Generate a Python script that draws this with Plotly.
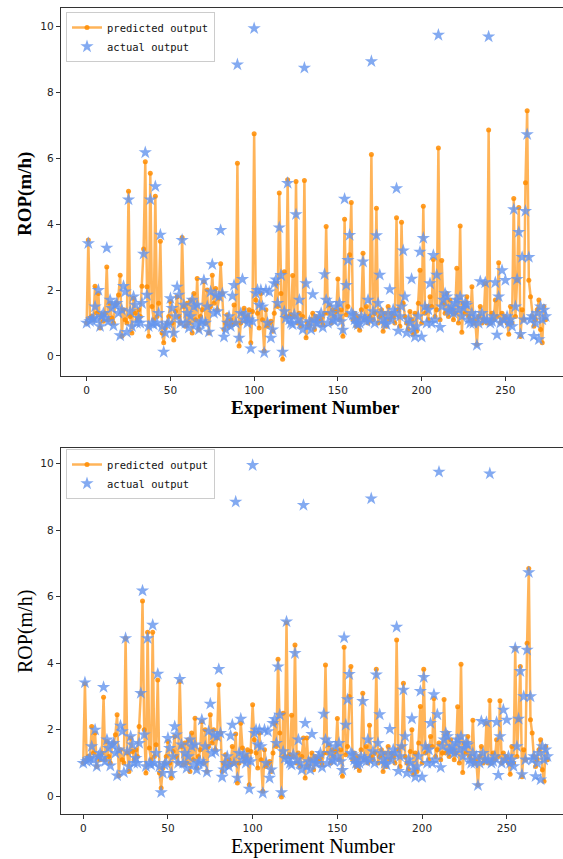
import plotly.graph_objects as go

W, H = 563, 859

actual = [
    1.0, 3.42, 1.05, 1.1, 1.15, 1.5, 1.1, 2.0, 0.9, 1.2,
    1.3, 1.15, 3.28, 1.05, 1.7, 1.45, 0.92, 1.55, 1.6, 1.3,
    0.62, 1.4, 2.12, 1.95, 0.72, 4.75, 1.35, 0.9, 1.8, 1.55,
    1.0, 1.15, 1.0, 1.6, 3.1, 6.18, 1.85, 0.9, 4.75, 1.0,
    0.95, 5.15, 1.0, 1.3, 3.68, 0.9, 0.12, 0.7, 0.95, 1.0,
    1.75, 1.45, 0.7, 1.2, 2.1, 1.85, 1.0, 3.52, 1.55, 1.0,
    1.3, 0.85, 1.2, 1.7, 1.5, 0.95, 1.55, 0.8, 1.0, 1.05,
    2.3, 1.0, 1.5, 0.73, 1.95, 2.78, 1.3, 1.85, 1.35, 1.8,
    3.82, 1.9, 0.58, 0.8, 1.0, 1.2, 0.9, 1.82, 2.15, 1.0,
    8.85, 0.55, 1.3, 2.33, 1.1, 1.25, 1.0, 1.1, 0.22, 1.05,
    9.95, 1.9, 2.0, 1.55, 2.0, 1.5, 0.1, 2.0, 1.0, 1.95,
    0.55, 0.8, 2.2, 2.32, 1.6, 3.9, 2.45, 0.12, 1.35, 1.15,
    5.25, 1.1, 1.0, 0.95, 1.25, 4.3, 1.1, 1.7, 1.0, 0.8,
    8.75, 2.2, 0.9, 1.05, 0.8, 1.87, 1.1, 1.0, 1.0, 1.2,
    1.3, 0.87, 2.48, 1.7, 1.0, 1.6, 1.3, 1.1, 1.05, 1.5,
    1.2, 1.6, 1.05, 0.79, 4.77, 2.15, 2.91, 3.67, 1.3, 1.25,
    1.1, 1.0, 0.95, 1.0, 1.2, 2.86, 1.15, 1.05, 1.7, 1.1,
    8.95, 1.35, 1.0, 3.66, 1.6, 2.46, 1.3, 1.1, 1.0, 0.95,
    1.25, 2.02, 1.1, 1.4, 1.3, 5.09, 0.76, 1.2, 1.5, 3.2,
    1.8, 0.7, 1.1, 1.0, 2.34, 0.8, 0.58, 0.9, 1.2, 3.16,
    0.58, 3.58, 1.5, 1.0, 1.4, 2.2, 1.0, 3.06, 1.1, 2.46,
    9.75, 0.87, 1.5, 1.7, 1.9, 1.8, 1.4, 1.35, 1.5, 1.3,
    1.6, 1.7, 1.4, 1.8, 1.2, 1.45, 1.6, 1.55, 1.1, 1.0,
    1.3, 1.0, 1.2, 0.33, 1.0, 2.26, 1.3, 1.1, 2.23, 1.1,
    9.7, 1.0, 1.05, 1.2, 2.23, 0.64, 1.8, 1.0, 2.6, 1.1,
    2.3, 1.2, 1.0, 1.1, 0.9, 4.45, 1.5, 2.33, 3.76, 0.66,
    3.0, 1.1, 4.4, 6.73, 3.0, 1.1, 1.2, 0.6, 1.0, 1.3,
    0.5, 1.5, 1.1, 1.4, 1.2,
]

predicted_top = [
    1.0, 3.52, 1.15, 1.2, 1.1, 2.12, 1.3, 1.9, 0.85, 1.25,
    1.05, 1.3, 2.7, 1.1, 1.6, 1.15, 1.0, 1.55, 1.6, 1.85,
    2.45, 0.6, 1.4, 1.1, 1.0, 5.0, 1.2, 0.7, 1.75, 1.3,
    1.1, 1.4, 1.2, 2.12, 3.25, 5.9, 2.1, 0.6, 5.55, 1.5,
    1.1, 4.85, 1.2, 1.6, 3.48, 0.7, 0.4, 0.85, 1.0, 1.2,
    1.65, 1.0, 0.48, 1.35, 1.8, 1.2, 1.0, 3.6, 1.5, 0.9,
    1.6, 1.0, 1.7, 0.7, 1.9, 1.1, 2.35, 0.8, 1.2, 1.4,
    2.25, 1.0, 2.0, 0.7, 1.5, 2.45, 1.6, 2.05, 1.4, 1.75,
    2.8, 1.9, 0.8, 1.0, 1.25, 0.9, 1.1, 0.95, 1.55, 1.0,
    5.85, 0.3, 1.0, 1.3, 1.45, 1.05, 1.2, 1.4, 0.4, 1.35,
    6.75, 1.7, 1.3, 0.85, 1.9, 1.1, 0.15, 1.4, 0.9, 1.0,
    1.05, 0.75, 1.3, 2.2, 1.5, 4.95, 1.9, -0.1, 2.56, 1.2,
    5.35, 1.2, 1.25, 2.44, 1.2, 5.3, 1.0, 1.3, 0.9, 1.2,
    5.33, 0.55, 1.0, 0.9, 1.1, 1.3, 0.8, 1.2, 1.1, 1.05,
    1.15, 0.95, 1.3, 3.93, 1.3, 1.55, 1.0, 1.4, 1.2, 1.35,
    2.34, 1.1, 1.4, 0.6, 4.15, 1.25, 1.5, 3.07, 4.66, 1.1,
    1.3, 0.9, 1.2, 0.78, 1.4, 3.12, 1.1, 1.5, 1.0, 1.2,
    6.12, 1.1, 1.3, 4.49, 1.0, 1.2, 1.4, 0.75, 1.3, 0.9,
    1.5, 1.1, 1.3, 1.2, 1.0, 4.2, 1.4, 0.9, 4.06, 1.6,
    1.2, 1.0, 0.8, 1.35, 1.1, 0.66, 1.3, 0.75, 1.6, 2.6,
    1.0, 4.55, 1.3, 1.5, 1.1, 1.8, 1.5, 2.93, 1.2, 1.4,
    6.32, 1.1, 2.9, 1.6, 1.3, 1.9, 1.2, 1.7, 1.4, 1.1,
    1.3, 2.66, 1.0, 3.95, 0.72, 1.6, 1.3, 1.8, 1.2, 1.1,
    2.1, 1.0, 1.1, 0.35, 1.2, 1.5, 1.0, 1.1, 2.2, 1.0,
    6.86, 1.0, 1.3, 1.1, 1.7, 1.2, 2.83, 1.0, 1.3, 1.1,
    1.2, 1.0, 0.66, 1.5, 1.0, 4.78, 1.2, 2.3, 4.51, 0.59,
    1.4, 1.1, 5.26, 7.45, 2.3, 1.8, 1.2, 0.9, 1.1, 1.4,
    1.7, 0.8, 0.4, 1.5, 1.1,
]

predicted_bottom = [
    1.0, 3.38, 1.1, 1.2, 1.15, 2.1, 1.3, 1.9, 0.9, 1.2,
    1.1, 1.3, 2.98, 1.1, 1.65, 1.2, 1.0, 1.55, 1.6, 1.85,
    2.45, 0.62, 1.4, 1.1, 1.0, 4.75, 1.3, 0.75, 1.75, 1.35,
    1.1, 1.4, 1.2, 2.1, 3.1, 5.87, 2.0, 0.7, 4.93, 1.45,
    1.1, 4.93, 1.2, 1.55, 3.5, 0.7, 0.25, 0.85, 1.0, 1.2,
    1.65, 1.0, 0.55, 1.35, 1.8, 1.2, 1.0, 3.45, 1.5, 0.95,
    1.6, 1.0, 1.7, 0.75, 1.9, 1.1, 2.35, 0.85, 1.2, 1.4,
    2.25, 1.0, 2.0, 0.75, 1.5, 2.45, 1.6, 2.0, 1.4, 1.75,
    3.35, 1.9, 0.75, 1.0, 1.25, 0.9, 1.1, 0.95, 1.5, 1.0,
    1.87, 0.4, 1.0, 2.2, 1.45, 1.05, 1.2, 1.4, 0.35, 1.35,
    2.75, 1.7, 1.3, 0.85, 1.9, 1.1, 0.15, 1.4, 0.9, 1.0,
    1.05, 0.75, 1.3, 2.2, 1.5, 4.12, 1.9, -0.02, 2.5, 1.2,
    5.22, 1.2, 1.25, 2.44, 1.2, 4.55, 1.0, 1.3, 0.9, 1.2,
    1.75, 0.55, 1.75, 0.9, 1.1, 1.3, 0.8, 1.2, 1.1, 1.05,
    1.15, 0.95, 1.3, 3.95, 1.3, 1.55, 1.0, 1.4, 1.2, 1.35,
    2.34, 1.1, 1.4, 0.6, 4.48, 1.25, 1.5, 3.0, 3.9, 1.1,
    1.3, 0.9, 1.2, 0.78, 1.4, 3.1, 1.1, 1.5, 1.0, 2.14,
    1.2, 1.1, 1.3, 3.82, 1.0, 1.2, 1.4, 0.75, 1.3, 0.9,
    1.5, 1.1, 1.3, 1.2, 1.0, 4.7, 1.4, 0.9, 1.5, 3.4,
    1.2, 1.0, 0.8, 1.35, 2.0, 0.66, 1.3, 0.75, 1.6, 2.7,
    1.0, 3.82, 1.3, 1.5, 1.1, 1.8, 1.5, 2.94, 1.2, 1.4,
    1.6, 1.1, 1.3, 2.91, 1.3, 1.9, 1.2, 1.7, 1.4, 1.1,
    1.3, 2.69, 1.0, 3.97, 0.72, 1.6, 1.3, 1.8, 1.2, 1.1,
    2.29, 1.0, 1.1, 0.34, 1.2, 1.5, 1.0, 1.1, 2.2, 1.0,
    2.88, 1.0, 1.3, 1.1, 1.7, 1.2, 2.87, 1.0, 1.3, 1.1,
    1.2, 1.0, 0.66, 1.5, 1.0, 4.45, 1.2, 2.3, 3.9, 0.59,
    1.4, 1.1, 4.6, 6.85, 2.3, 1.9, 1.2, 0.9, 1.1, 1.4,
    1.7, 0.8, 0.45, 1.5, 1.1,
]

experiment = list(range(len(actual)))
x_ticks = [0, 50, 100, 150, 200, 250]
y_ticks = [0, 2, 4, 6, 8, 10]

LINE_C = "rgba(255,140,0,0.65)"
MARK_C = "rgba(255,140,0,0.85)"
STAR_C = "rgba(100,149,237,0.8)"

fig = go.Figure()
for pred, xa, ya, lg in [(predicted_top, "x", "y", "legend"),
                         (predicted_bottom, "x2", "y2", "legend2")]:
    fig.add_trace(go.Scatter(
        x=experiment, y=pred, mode="lines+markers", name="predicted output",
        line=dict(color=LINE_C, width=2.5),
        marker=dict(color=MARK_C, size=5, symbol="circle"),
        xaxis=xa, yaxis=ya, legend=lg))
    fig.add_trace(go.Scatter(
        x=experiment, y=actual, mode="markers", name="actual output",
        marker=dict(color=STAR_C, size=10, symbol="star", line=dict(width=0)),
        xaxis=xa, yaxis=ya, legend=lg))

def px_x(p):
    return p / W

def px_y(p):
    return 1 - p / H

tickfont = dict(family="DejaVu Sans", size=10.5, color="#222")
common_x = dict(tickvals=x_ticks, ticks="outside", ticklen=4, tickcolor="#333",
                showline=True, linecolor="#333", linewidth=1, mirror=True,
                showgrid=False, zeroline=False, tickfont=tickfont)
common_y = dict(tickvals=y_ticks, ticks="outside", ticklen=4, tickcolor="#333",
                showline=True, linecolor="#333", linewidth=1, mirror=False,
                showgrid=False, zeroline=False, tickfont=tickfont)

legend_common = dict(bgcolor="rgba(255,255,255,0.8)", bordercolor="#ccc", borderwidth=1,
                     font=dict(family="DejaVu Sans Mono", size=10.5, color="#111"),
                     xanchor="left", yanchor="top", tracegroupgap=0,
                     itemwidth=30)

fig.update_layout(
    width=W, height=H, margin=dict(l=0, r=0, t=0, b=0),
    paper_bgcolor="white", plot_bgcolor="white",
    xaxis=dict(domain=[px_x(60.7), 1.0], range=[-15.5, 284.4], anchor="y", **common_x),
    yaxis=dict(domain=[px_y(376), px_y(8)], range=[-0.61, 10.57], anchor="x", **common_y),
    xaxis2=dict(domain=[px_x(60.7), 1.0], range=[-13.3, 283.2], anchor="y2", **common_x),
    yaxis2=dict(domain=[px_y(814.3), px_y(448.3)], range=[-0.54, 10.46], anchor="x2", **common_y),
    legend=dict(x=px_x(66), y=px_y(12), **legend_common),
    legend2=dict(x=px_x(66), y=px_y(449), **legend_common),
    annotations=[
        dict(text="<b>ROP(m/h)</b>", x=px_x(25), y=px_y(194), xref="paper", yref="paper",
             textangle=-90, showarrow=False, xanchor="center", yanchor="middle",
             font=dict(family="Liberation Serif", size=19, color="black")),
        dict(text="<b>Experiment Number</b>", x=px_x(315), y=px_y(407), xref="paper", yref="paper",
             showarrow=False, xanchor="center", yanchor="middle",
             font=dict(family="Liberation Serif", size=19, color="black")),
        dict(text="ROP(m/h)", x=px_x(25), y=px_y(632), xref="paper", yref="paper",
             textangle=-90, showarrow=False, xanchor="center", yanchor="middle",
             font=dict(family="Liberation Serif", size=20, color="black")),
        dict(text="Experiment Number", x=px_x(313), y=px_y(846), xref="paper", yref="paper",
             showarrow=False, xanchor="center", yanchor="middle",
             font=dict(family="Liberation Serif", size=20, color="black")),
    ],
)

fig.write_html("out.html")
